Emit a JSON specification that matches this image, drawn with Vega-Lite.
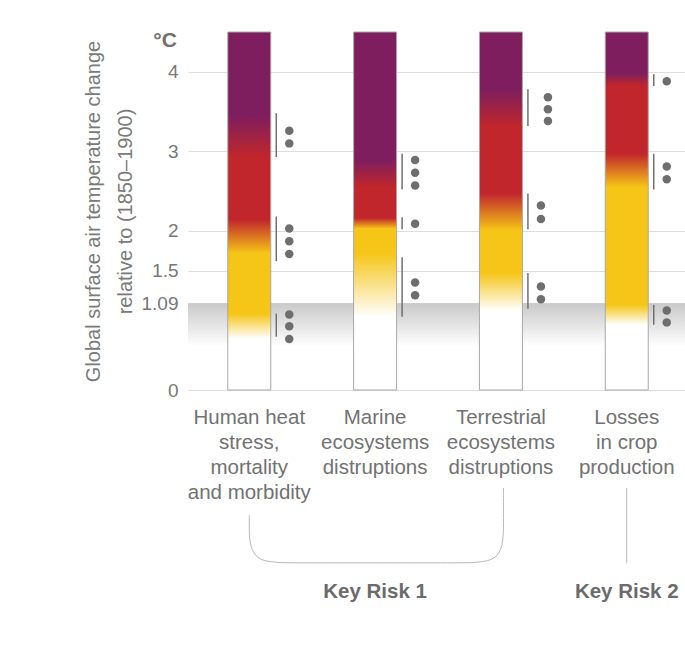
{
  "$schema": "https://vega.github.io/schema/vega-lite/v6.json",
  "width": 497,
  "height": 358,
  "autosize": {"type": "none"},
  "padding": {"left": 188, "top": 32, "right": 0, "bottom": 262},
  "background": "white",
  "config": {
    "font": "Liberation Sans, Arial, sans-serif",
    "view": {"stroke": null}
  },
  "datasets": {
    "bars": [
      {"i": 0, "risk": "Human heat|stress,|mortality|and morbidity"},
      {"i": 1, "risk": "Marine|ecosystems|distruptions"},
      {"i": 2, "risk": "Terrestrial|ecosystems|distruptions"},
      {"i": 3, "risk": "Losses|in crop|production"}
    ],
    "ranges": [
      {"i": 0, "lo": 2.93, "hi": 3.48}, {"i": 0, "lo": 1.62, "hi": 2.18}, {"i": 0, "lo": 0.67, "hi": 0.96},
      {"i": 1, "lo": 2.52, "hi": 2.97}, {"i": 1, "lo": 2.02, "hi": 2.17}, {"i": 1, "lo": 0.92, "hi": 1.67},
      {"i": 2, "lo": 3.32, "hi": 3.78}, {"i": 2, "lo": 2.02, "hi": 2.47}, {"i": 2, "lo": 1.02, "hi": 1.47},
      {"i": 3, "lo": 3.82, "hi": 3.97}, {"i": 3, "lo": 2.52, "hi": 2.97}, {"i": 3, "lo": 0.82, "hi": 1.07}
    ],
    "dots": [
      {"i": 0, "g": "high", "t": 3.26}, {"i": 0, "g": "high", "t": 3.10},
      {"i": 0, "g": "mid", "t": 2.03}, {"i": 0, "g": "mid", "t": 1.87}, {"i": 0, "g": "mid", "t": 1.71},
      {"i": 0, "g": "low", "t": 0.95}, {"i": 0, "g": "low", "t": 0.80}, {"i": 0, "g": "low", "t": 0.64},
      {"i": 1, "g": "high", "t": 2.89}, {"i": 1, "g": "high", "t": 2.73}, {"i": 1, "g": "high", "t": 2.57},
      {"i": 1, "g": "mid", "t": 2.09},
      {"i": 1, "g": "low", "t": 1.35}, {"i": 1, "g": "low", "t": 1.19},
      {"i": 2, "g": "high", "t": 3.68}, {"i": 2, "g": "high", "t": 3.53}, {"i": 2, "g": "high", "t": 3.38},
      {"i": 2, "g": "mid", "t": 2.32}, {"i": 2, "g": "mid", "t": 2.15},
      {"i": 2, "g": "low", "t": 1.30}, {"i": 2, "g": "low", "t": 1.14},
      {"i": 3, "g": "high", "t": 3.88},
      {"i": 3, "g": "mid", "t": 2.81}, {"i": 3, "g": "mid", "t": 2.65},
      {"i": 3, "g": "low", "t": 1.00}, {"i": 3, "g": "low", "t": 0.85}
    ],
    "bracket": [
      {"o": 0, "bx": 0, "by": -1.57},
      {"o": 1, "bx": 0, "by": -1.643},
      {"o": 2, "bx": 0, "by": -2.173},
      {"o": 3, "bx": 0.33, "by": -2.173},
      {"o": 4, "bx": 1.69, "by": -2.173},
      {"o": 5, "bx": 2.02, "by": -2.173},
      {"o": 6, "bx": 2.02, "by": -1.643},
      {"o": 7, "bx": 2.02, "by": -1.231}
    ],
    "keyrisks": [
      {"k": "Key Risk 1", "i": 1, "from": -1.231, "to": -2.173},
      {"k": "Key Risk 2", "i": 3, "from": -1.231, "to": -2.173}
    ],
    "band": [{"observed": 1.09, "fade": 0.55}]
  },
  "encoding": {
    "x": {"type": "quantitative", "scale": {"domain": [-0.487, 3.463], "nice": false, "zero": false, "padding": 0}, "axis": null}
  },
  "layer": [
    {
      "data": {"name": "band"},
      "mark": {"type": "rect", "fill": {"gradient": "linear", "x1": 0, "y1": 0, "x2": 0, "y2": 1, "stops": [{"offset": 0, "color": "#c9c9c9"}, {"offset": 1, "color": "#ffffff"}]}},
      "encoding": {
        "y": {"field": "observed", "type": "quantitative", "scale": {"domain": [0, 4.5], "nice": false, "zero": false},
          "axis": {
            "values": [0, 1.09, 1.5, 2, 3, 4],
            "labelExpr": "format(datum.value, '.3~g')",
            "grid": true, "gridColor": "#dddddd", "gridWidth": 1.2,
            "ticks": false, "tickSize": 0, "domain": false,
            "labelFontSize": 19, "labelColor": "#777777", "labelPadding": 10,
            "title": ["Global surface air temperature change", "relative to (1850\u20131900)"],
            "titleFontSize": 20, "titleFontWeight": "normal", "titleColor": "#7a7a7a",
            "titleLineHeight": 32, "titlePadding": 6
          }
        },
        "y2": {"field": "fade"}
      }
    },
    {
      "data": {"name": "bars"},
      "transform": [{"filter": "datum.i == 0"}],
      "mark": {"type": "bar", "width": 43, "stroke": "#a8a8a8", "strokeWidth": 1,
        "fill": {"gradient": "linear", "x1": 0, "y1": 1, "x2": 0, "y2": 0, "stops": [
          {"offset": 0, "color": "#ffffff"}, {"offset": 0.144, "color": "#ffffff"},
          {"offset": 0.213, "color": "#f5c518"}, {"offset": 0.382, "color": "#f5c518"},
          {"offset": 0.476, "color": "#c0262b"}, {"offset": 0.651, "color": "#c0262b"},
          {"offset": 0.767, "color": "#7e1e5e"}, {"offset": 1, "color": "#7e1e5e"}]}},
      "encoding": {"x": {"field": "i", "type": "quantitative"}, "y": {"datum": 4.5}, "y2": {"datum": 0}}
    },
    {
      "data": {"name": "bars"},
      "transform": [{"filter": "datum.i == 1"}],
      "mark": {"type": "bar", "width": 43, "stroke": "#a8a8a8", "strokeWidth": 1,
        "fill": {"gradient": "linear", "x1": 0, "y1": 1, "x2": 0, "y2": 0, "stops": [
          {"offset": 0, "color": "#ffffff"}, {"offset": 0.204, "color": "#ffffff"},
          {"offset": 0.382, "color": "#f5c518"}, {"offset": 0.451, "color": "#f5c518"},
          {"offset": 0.48, "color": "#c0262b"}, {"offset": 0.567, "color": "#c0262b"},
          {"offset": 0.642, "color": "#7e1e5e"}, {"offset": 1, "color": "#7e1e5e"}]}},
      "encoding": {"x": {"field": "i", "type": "quantitative"}, "y": {"datum": 4.5}, "y2": {"datum": 0}}
    },
    {
      "data": {"name": "bars"},
      "transform": [{"filter": "datum.i == 2"}],
      "mark": {"type": "bar", "width": 43, "stroke": "#a8a8a8", "strokeWidth": 1,
        "fill": {"gradient": "linear", "x1": 0, "y1": 1, "x2": 0, "y2": 0, "stops": [
          {"offset": 0, "color": "#ffffff"}, {"offset": 0.222, "color": "#ffffff"},
          {"offset": 0.327, "color": "#f5c518"}, {"offset": 0.447, "color": "#f5c518"},
          {"offset": 0.549, "color": "#c0262b"}, {"offset": 0.736, "color": "#c0262b"},
          {"offset": 0.838, "color": "#7e1e5e"}, {"offset": 1, "color": "#7e1e5e"}]}},
      "encoding": {"x": {"field": "i", "type": "quantitative"}, "y": {"datum": 4.5}, "y2": {"datum": 0}}
    },
    {
      "data": {"name": "bars"},
      "transform": [{"filter": "datum.i == 3"}],
      "mark": {"type": "bar", "width": 43, "stroke": "#a8a8a8", "strokeWidth": 1,
        "fill": {"gradient": "linear", "x1": 0, "y1": 1, "x2": 0, "y2": 0, "stops": [
          {"offset": 0, "color": "#ffffff"}, {"offset": 0.182, "color": "#ffffff"},
          {"offset": 0.238, "color": "#f5c518"}, {"offset": 0.567, "color": "#f5c518"},
          {"offset": 0.66, "color": "#c0262b"}, {"offset": 0.851, "color": "#c0262b"},
          {"offset": 0.884, "color": "#7e1e5e"}, {"offset": 1, "color": "#7e1e5e"}]}},
      "encoding": {"x": {"field": "i", "type": "quantitative"}, "y": {"datum": 4.5}, "y2": {"datum": 0}}
    },
    {
      "data": {"name": "ranges"},
      "mark": {"type": "rule", "xOffset": 27, "color": "#707070", "strokeWidth": 1.5},
      "encoding": {"x": {"field": "i", "type": "quantitative"}, "y": {"field": "lo", "type": "quantitative"}, "y2": {"field": "hi"}}
    },
    {
      "data": {"name": "dots"},
      "transform": [{"filter": "!(datum.i == 2 && datum.g == 'high')"}],
      "mark": {"type": "circle", "xOffset": 40, "size": 72, "color": "#6e6e6e", "opacity": 1},
      "encoding": {"x": {"field": "i", "type": "quantitative"}, "y": {"field": "t", "type": "quantitative"}}
    },
    {
      "data": {"name": "dots"},
      "transform": [{"filter": "datum.i == 2 && datum.g == 'high'"}],
      "mark": {"type": "circle", "xOffset": 47, "size": 72, "color": "#6e6e6e", "opacity": 1},
      "encoding": {"x": {"field": "i", "type": "quantitative"}, "y": {"field": "t", "type": "quantitative"}}
    },
    {
      "data": {"name": "bars"},
      "mark": {"type": "text", "lineBreak": "|", "lineHeight": 25, "fontSize": 20.5, "color": "#727272", "align": "center", "baseline": "alphabetic", "dy": 34},
      "encoding": {"x": {"field": "i", "type": "quantitative"}, "y": {"datum": 0}, "text": {"field": "risk"}}
    },
    {
      "data": {"values": [{"unit": "\u00b0C"}]},
      "mark": {"type": "text", "fontSize": 21, "fontWeight": "bold", "color": "#707070", "align": "right", "baseline": "alphabetic"},
      "encoding": {"x": {"datum": -0.575}, "y": {"datum": 4.313}, "text": {"field": "unit"}}
    },
    {
      "data": {"name": "bracket"},
      "mark": {"type": "line", "interpolate": "basis", "color": "#b8b8b8", "strokeWidth": 1},
      "encoding": {"x": {"field": "bx", "type": "quantitative"}, "y": {"field": "by", "type": "quantitative"}, "order": {"field": "o"}}
    },
    {
      "data": {"name": "keyrisks"},
      "transform": [{"filter": "datum.i == 3"}],
      "mark": {"type": "rule", "color": "#b8b8b8", "strokeWidth": 1},
      "encoding": {"x": {"field": "i", "type": "quantitative"}, "y": {"field": "from", "type": "quantitative"}, "y2": {"field": "to"}}
    },
    {
      "data": {"name": "keyrisks"},
      "mark": {"type": "text", "fontSize": 20.5, "fontWeight": "bold", "color": "#6b6b6b", "align": "center", "baseline": "alphabetic"},
      "encoding": {"x": {"field": "i", "type": "quantitative"}, "y": {"datum": -2.613}, "text": {"field": "k"}}
    }
  ]
}
